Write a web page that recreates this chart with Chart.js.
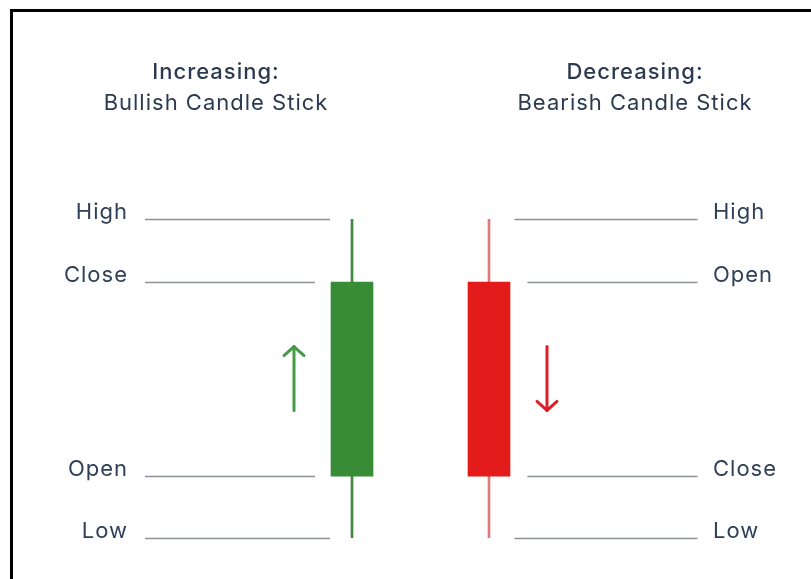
<!DOCTYPE html>
<html>
<head>
<meta charset="utf-8">
<script src="https://cdn.jsdelivr.net/npm/chart.js@4"></script>
<style>
  html, body { margin: 0; padding: 0; background: #fff; overflow: hidden; }
  #wrap { position: relative; width: 811px; height: 579px; }
  #frame {
    position: absolute; left: 10px; top: 9px; width: 900px; height: 700px;
    border-left: 3px solid #000; border-top: 3px solid #000;
  }
  canvas { position: absolute; left: 0; top: 0; }
</style>
</head>
<body>
<div id="wrap">
  <div id="frame"></div>
  <canvas id="chart" width="811" height="579"></canvas>
</div>
<script>
const candles = ["Bullish", "Bearish"];
const titles = ["Increasing:", "Decreasing:"];
const subtitles = ["Bullish Candle Stick", "Bearish Candle Stick"];
const openVals = [9.7, 40.1];
const closeVals = [40.1, 9.7];
const highVals = [50, 50];
const lowVals = [0, 0];
// arrow start -> end (direction of the move)
const arrowFrom = [20, 30];
const arrowTo = [30, 20];

const bodyColors = ["#378c35", "#e31b1b"];
const wickColors = ["#3f8a3f", "#e07a7a"];
const arrowColors = ["#479a45", "#dc2029"];

const FONT = "Inter, 'Open Sans', sans-serif";

// Lines, labels, titles and arrows around each candle
const guidePlugin = {
  id: "guides",
  afterDatasetsDraw(chart) {
    const { ctx, scales: { x, y } } = chart;
    ctx.save();
    ctx.letterSpacing = "1px";
    candles.forEach((name, i) => {
      const cx = x.getPixelForValue(i);
      const left = i === 0;
      const levels = [
        ["High", highVals[i]],
        [left ? "Close" : "Open", left ? closeVals[i] : openVals[i]],
        [left ? "Open" : "Close", left ? openVals[i] : closeVals[i]],
        ["Low", lowVals[i]],
      ];
      levels.forEach(([label, v]) => {
        const py = Math.round(y.getPixelForValue(v)) + 0.5;
        const body = label === "Open" || label === "Close";
        let x1, x2;
        if (left) {
          x1 = cx - 207;
          x2 = cx - (body ? 37 : 22);
        } else {
          x1 = cx + (body ? 39 : 26);
          x2 = cx + 208;
        }
        ctx.strokeStyle = "#8d9199";
        ctx.lineWidth = 1.5;
        ctx.beginPath();
        ctx.moveTo(x1, py);
        ctx.lineTo(x2, py);
        ctx.stroke();

        ctx.fillStyle = "#2f4058";
        ctx.font = "22px " + FONT;
        ctx.textBaseline = "middle";
        ctx.textAlign = left ? "right" : "left";
        ctx.fillText(label, left ? cx - 224 : cx + 224, py - 7);
      });

      // titles
      const tx = left ? cx - 136 : cx + 146;
      ctx.textAlign = "center";
      ctx.textBaseline = "middle";
      ctx.fillStyle = "#2c3a50";
      ctx.font = "500 22px " + FONT;
      ctx.fillText(titles[i], tx, 72);
      ctx.font = "22px " + FONT;
      ctx.fillText(subtitles[i], tx, 103);

      // arrow
      const ax = cx + (left ? -58 : 58);
      const y1 = y.getPixelForValue(arrowFrom[i]);
      const y2 = y.getPixelForValue(arrowTo[i]);
      const dir = y2 < y1 ? 1 : -1;
      ctx.strokeStyle = arrowColors[i];
      ctx.lineWidth = 3;
      ctx.lineCap = "round";
      ctx.lineJoin = "round";
      ctx.beginPath();
      ctx.moveTo(ax, y1);
      ctx.lineTo(ax, y2);
      ctx.stroke();
      ctx.beginPath();
      ctx.moveTo(ax - 10, y2 + dir * 9);
      ctx.lineTo(ax, y2);
      ctx.lineTo(ax + 10, y2 + dir * 9);
      ctx.stroke();
    });
    ctx.restore();
  },
};

new Chart(document.getElementById("chart"), {
  type: "bar",
  data: {
    labels: candles,
    datasets: [
      {
        label: "Body",
        data: openVals.map((o, i) => [o, closeVals[i]]),
        backgroundColor: bodyColors,
        borderWidth: 0,
        borderSkipped: false,
        barThickness: 42,
        grouped: false,
      },
      {
        label: "Wick",
        data: lowVals.map((l, i) => [l, highVals[i]]),
        backgroundColor: wickColors,
        borderWidth: 0,
        borderSkipped: false,
        barThickness: 2,
        grouped: false,
      },
    ],
  },
  options: {
    responsive: false,
    animation: false,
    layout: {
      padding: { left: 283.5, right: 253.5, top: 219, bottom: 41 },
    },
    plugins: {
      legend: { display: false },
      tooltip: { enabled: false },
    },
    scales: {
      x: { display: false, offset: true },
      y: { display: false, min: 0, max: 50 },
    },
  },
  plugins: [guidePlugin],
});
</script>
</body>
</html>
